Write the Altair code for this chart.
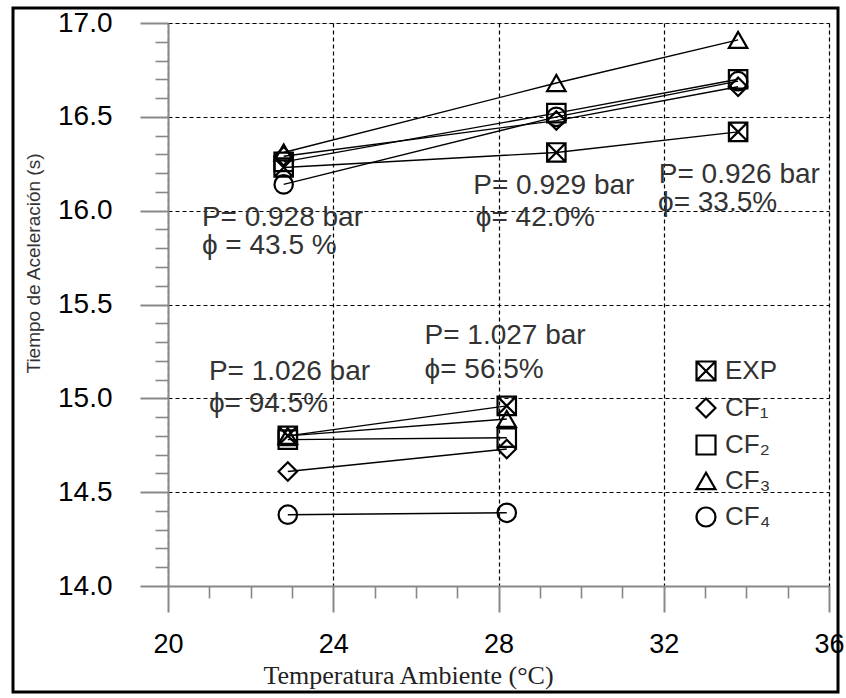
import altair as alt
import pandas as pd

# ---- data ----
series = ["EXP", "CF₁", "CF₂", "CF₃", "CF₄"]

temp_p093 = [22.8, 29.4, 33.8]      # P ~ 0.93 bar
temp_p103 = [22.9, 28.2]            # P ~ 1.03 bar

exp_p093 = [16.23, 16.31, 16.42]
cf1_p093 = [16.29, 16.48, 16.66]
cf2_p093 = [16.26, 16.52, 16.70]
cf3_p093 = [16.31, 16.68, 16.91]
cf4_p093 = [16.14, 16.50, 16.69]

exp_p103 = [14.80, 14.96]
cf1_p103 = [14.61, 14.73]
cf2_p103 = [14.78, 14.79]
cf3_p103 = [14.80, 14.89]
cf4_p103 = [14.38, 14.39]

ann_text = ["P= 0.928 bar", "ϕ = 43.5 %", "P= 0.929 bar", "ϕ= 42.0%",
            "P= 0.926 bar", "ϕ= 33.5%", "P= 1.027 bar", "ϕ= 56.5%",
            "P= 1.026 bar", "ϕ= 94.5%"]
ann_temp = [20.82, 20.82, 27.39, 27.45, 31.88, 31.86, 26.21, 26.21, 20.99, 20.99]
ann_time = [15.96, 15.81, 16.13, 15.96, 16.19, 16.04, 15.33, 15.15, 15.14, 14.97]

x_major = [20, 24, 28, 32, 36]
x_minor = [21, 22, 23, 25, 26, 27, 29, 30, 31, 33, 34, 35]
y_major = [14.0, 14.5, 15.0, 15.5, 16.0, 16.5, 17.0]
y_minor = [14.1, 14.2, 14.3, 14.4, 14.6, 14.7, 14.8, 14.9, 15.1, 15.2, 15.3, 15.4,
           15.6, 15.7, 15.8, 15.9, 16.1, 16.2, 16.3, 16.4, 16.6, 16.7, 16.8, 16.9]

# ---- tables ----
rows = []
for s, vals in zip(series, [exp_p093, cf1_p093, cf2_p093, cf3_p093, cf4_p093]):
    for t, v in zip(temp_p093, vals):
        rows.append({"serie": s, "grupo": s + "_a", "T": t, "tiempo": v})
for s, vals in zip(series, [exp_p103, cf1_p103, cf2_p103, cf3_p103, cf4_p103]):
    for t, v in zip(temp_p103, vals):
        rows.append({"serie": s, "grupo": s + "_b", "T": t, "tiempo": v})
df = pd.DataFrame(rows)
ann = pd.DataFrame({"txt": ann_text, "T": ann_temp, "tiempo": ann_time})

W, H = 661, 563
xscale = alt.Scale(domain=[20, 36], nice=False, zero=False)
yscale = alt.Scale(domain=[14, 17], nice=False, zero=False)

exp_path = "M-1,-1L1,-1L1,1L-1,1Z M-1,-1L1,1 M1,-1L-1,1"

x_axis = alt.Axis(values=x_major, format="d", tickSize=26, tickWidth=2,
                  domainWidth=2, labelFontSize=27, labelPadding=19,
                  labelFlush=False, labelOverlap=False,
                  grid=True, gridColor="black", gridDash=[4, 3], gridWidth=1.2,
                  title="Temperatura Ambiente (°C)", titleFont="Liberation Serif",
                  titleFontSize=26, titleFontWeight="normal", titleColor="#222",
                  titleX=240, titleY=89, titleAlign="center", titleBaseline="middle")
y_axis = alt.Axis(values=y_major, format=".1f", tickSize=28, tickWidth=2,
                  domainWidth=2, labelFontSize=28, labelPadding=28,
                  labelFlush=False, labelOverlap=False,
                  grid=True, gridColor="black", gridDash=[4, 3], gridWidth=1.2,
                  title="Tiempo de Aceleración (s)", titleFont="Liberation Sans",
                  titleFontSize=19, titleFontWeight="normal", titleColor="#333",
                  titleX=-135, titleY=240, titleAngle=270, titleAlign="center",
                  titleBaseline="middle")

lines = alt.Chart(df).mark_line(color="black", strokeWidth=1.4).encode(
    x=alt.X("T:Q", scale=xscale, axis=x_axis),
    y=alt.Y("tiempo:Q", scale=yscale, axis=y_axis),
    detail="grupo:N",
)

points = alt.Chart(df).mark_point(filled=False, stroke="black", strokeWidth=2.2,
                                  size=340, opacity=1).encode(
    x=alt.X("T:Q", scale=xscale, axis=None),
    y=alt.Y("tiempo:Q", scale=yscale, axis=None),
    shape=alt.Shape("serie:N",
                    scale=alt.Scale(domain=series,
                                    range=[exp_path, "diamond", "square",
                                           "triangle-up", "circle"]),
                    legend=alt.Legend(title=None, orient="none", legendX=525,
                                      legendY=335, labelFontSize=26,
                                      labelFont="Liberation Sans",
                                      labelColor="#333", symbolSize=360,
                                      symbolStrokeColor="black",
                                      symbolStrokeWidth=2.2,
                                      symbolFillColor="transparent",
                                      labelOffset=6, rowPadding=9,
                                      padding=0)),
)

texts = alt.Chart(ann).mark_text(align="left", baseline="middle", fontSize=28,
                                 font="Liberation Sans", color="#333").encode(
    x=alt.X("T:Q", scale=xscale, axis=None),
    y=alt.Y("tiempo:Q", scale=yscale, axis=None),
    text="txt:N",
)

minor = alt.Chart(df).mark_point(opacity=0).encode(
    x=alt.X("T:Q", scale=xscale,
            axis=alt.Axis(values=x_minor, orient="bottom", tickSize=12,
                          tickWidth=1.6, labels=False, domain=False,
                          grid=False, title=None)),
    y=alt.Y("tiempo:Q", scale=yscale,
            axis=alt.Axis(values=y_minor, orient="left", tickSize=13,
                          tickWidth=1.6, labels=False, domain=False,
                          grid=False, title=None)),
)

frame = alt.Chart(pd.DataFrame({"k": [0]})).mark_rect(
    fill=None, stroke="black", strokeWidth=3).encode(
    x=alt.value(-155), x2=alt.value(670), y=alt.value(-15), y2=alt.value(669))

chart = alt.layer(lines, points, texts, minor, frame).resolve_axis(
    x="independent", y="independent"
).properties(
    width=W, height=H,
    autosize=alt.AutoSizeParams(type="none"),
    padding={"left": 168, "top": 23, "right": 17, "bottom": 112},
).configure_view(
    stroke="black", strokeWidth=2
).configure_axis(
    domainColor="black", tickColor="black", labelColor="#333",
    labelFont="Liberation Sans"
).configure(background="white")

chart.save("out.html", embed_options={"renderer": "svg", "actions": False})
